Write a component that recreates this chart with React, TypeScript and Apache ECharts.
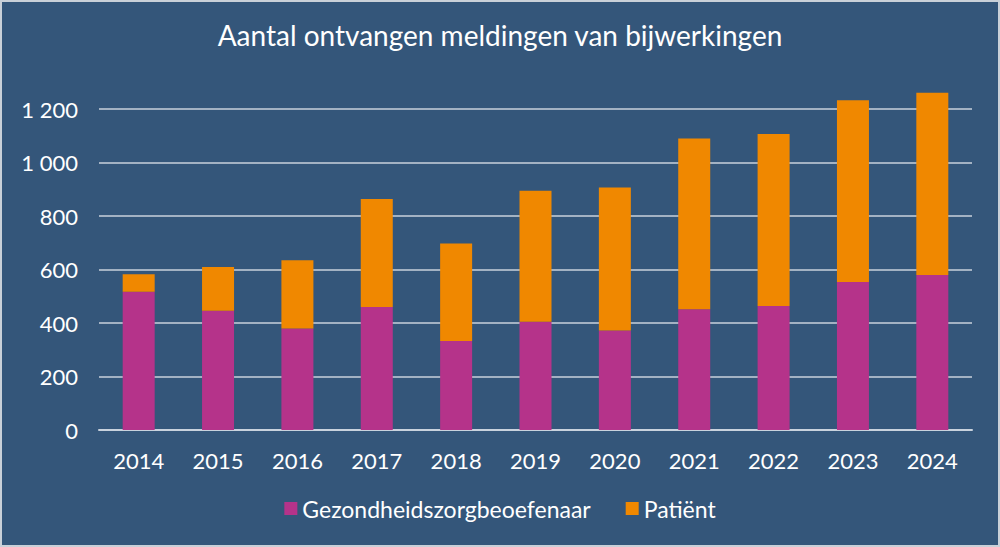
import { useEffect, useRef } from "react";
import * as echarts from "echarts";

const years = ["2014", "2015", "2016", "2017", "2018", "2019", "2020", "2021", "2022", "2023", "2024"];
const zorgbeoefenaar = [517, 446, 379, 460, 333, 405, 372, 451, 464, 553, 579];
const patient = [65, 163, 256, 404, 364, 489, 535, 639, 643, 680, 682];

const TEXT = "#ffffff";
const GRID = "#c9d2dd";

export default function App() {
  const chartRef = useRef<HTMLDivElement>(null);

  useEffect(() => {
    if (!chartRef.current) return;
    const chart = echarts.init(chartRef.current, null, { renderer: "svg" });

    const option = {
      animation: false,
      backgroundColor: "#34567a",
      textStyle: { fontFamily: "Lato" },
      title: {
        text: "Aantal ontvangen meldingen van bijwerkingen",
        left: "center",
        top: 14,
        textStyle: { color: TEXT, fontSize: 28, fontWeight: "normal", fontFamily: "Lato" },
      },
      legend: {
        bottom: 20,
        left: "center",
        itemWidth: 13,
        itemHeight: 13,
        itemGap: 35,
        icon: "rect",
        textStyle: { color: TEXT, fontSize: 23, fontFamily: "Lato" },
        data: ["Gezondheidszorgbeoefenaar", "Patiënt"],
      },
      grid: { left: 97, right: 26, top: 107, bottom: 115 },
      xAxis: {
        type: "category",
        data: years,
        axisLine: { lineStyle: { color: GRID, width: 2 } },
        axisTick: { show: false },
        axisLabel: { color: TEXT, fontSize: 22, margin: 19, fontFamily: "Lato" },
      },
      yAxis: {
        type: "value",
        min: 0,
        max: 1200,
        interval: 200,
        axisLine: { show: false },
        axisTick: { show: false },
        splitLine: { lineStyle: { color: GRID, width: 1.5 } },
        axisLabel: {
          color: TEXT,
          fontSize: 22,
          margin: 21,
          fontFamily: "Lato",
          formatter: (v: number) => String(v).replace(/\B(?=(\d{3})+(?!\d))/g, " "),
        },
      },
      series: [
        {
          name: "Gezondheidszorgbeoefenaar",
          type: "bar",
          stack: "totaal",
          barWidth: 32,
          clip: false,
          itemStyle: { color: "#b5338a" },
          data: zorgbeoefenaar,
        },
        {
          name: "Patiënt",
          type: "bar",
          stack: "totaal",
          barWidth: 32,
          clip: false,
          itemStyle: { color: "#f08800" },
          data: patient,
        },
      ],
    };
    chart.setOption(option);

    return () => {
      chart.dispose();
    };
  }, []);

  return (
    <div
      style={{
        position: "absolute",
        left: 0,
        top: 0,
        width: 1000,
        height: 547,
        boxSizing: "border-box",
        border: "2px solid #c9d0d8",
        background: "#34567a",
      }}
    >
      <div ref={chartRef} style={{ width: 996, height: 543 }} />
    </div>
  );
}
